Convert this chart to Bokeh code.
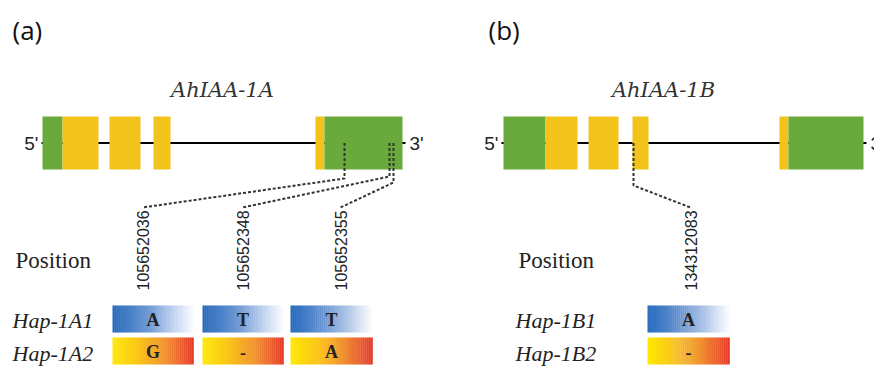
import numpy as np
from bokeh.plotting import figure
from bokeh.models import Range1d
from bokeh.embed import file_html
from bokeh.resources import INLINE
from bokeh.core.properties import value

# ---------------- data ----------------
panel_labels = ["(a)", "(b)"]
gene_names = ["AhIAA-1A", "AhIAA-1B"]

# schematic gene structures (drawing units)
gene_span_a = [41, 405]
exon_start_a = [42, 62, 109, 153, 315, 324]
exon_end_a = [62, 98, 140, 170, 324, 402]
exon_type_a = ["UTR", "CDS", "CDS", "CDS", "CDS", "UTR"]

gene_span_b = [501, 866]
exon_start_b = [503, 545, 588, 632, 779, 788]
exon_end_b = [545, 577, 618, 648, 788, 863]
exon_type_b = ["UTR", "CDS", "CDS", "CDS", "CDS", "UTR"]

snp_names_a = ["105652036", "105652348", "105652355"]
snp_site_a = [344, 389, 393]
snp_names_b = ["134312083"]
snp_site_b = [633]

hap_names_a = ["Hap-1A1", "Hap-1A2"]
alleles_a = [["A", "T", "T"], ["G", "-", "A"]]
hap_names_b = ["Hap-1B1", "Hap-1B2"]
alleles_b = [["A"], ["-"]]

# ---------------- layout / style ----------------
GREEN = "#6aaa3c"
YELLOW = "#f2c31a"
exon_color = {"UTR": GREEN, "CDS": YELLOW}

W, H = 874, 367
p = figure(width=W, height=H, output_backend="svg", toolbar_location=None,
           x_range=Range1d(0, W), y_range=Range1d(H, 0), min_border=0)
p.axis.visible = False
p.grid.visible = False
p.outline_line_color = None
p.background_fill_color = "white"

gene_y, gene_top, gene_bot = 142.5, 116, 169
label_x_a = [142, 242, 340]
label_x_b = [690]
bend_y_a = [178, 176, 182]
bend_y_b = [185]
label_base_y = 290
label_top_y = 207
box_cols_a = [(112, 193), (202, 283), (290, 372)]
box_cols_b = [(647, 729)]
rows = [(305, 332), (337, 364)]
hap_y = [320, 353]

blue_stops = [(0.0, (35, 105, 188)), (0.45, (115, 155, 212)), (1.0, (252, 253, 255))]
orange_stops = [(0.0, (255, 232, 0)), (0.3, (250, 200, 25)), (0.65, (240, 145, 50)), (1.0, (228, 55, 40))]


def interp(stops, t):
    for (t0, c0), (t1, c1) in zip(stops[:-1], stops[1:]):
        if t <= t1:
            f = (t - t0) / (t1 - t0)
            return "#%02x%02x%02x" % tuple(int(round(a + (b - a) * f)) for a, b in zip(c0, c1))
    return "#%02x%02x%02x" % stops[-1][1]


sans = value("Liberation Sans")
serif = value("Liberation Serif")
dserif = value("DejaVu Serif")


def draw_panel(letter, name, span, es, ee, et, snames, ssites, lxs, bends,
               hnames, alleles, cols, px, pos_x, hap_x, name_x):
    # panel letter
    p.text(x=[px], y=[29], text=[letter], text_font=value("Open Sans"),
           text_font_size="26px", text_align="left", text_baseline="middle", text_color="#111")
    # gene name
    p.text(x=[name_x], y=[89], text=[name], text_font=dserif, text_font_style="italic",
           text_font_size="21px", text_align="center", text_baseline="middle", text_color="#333")
    # intron line
    p.line(x=span, y=[gene_y, gene_y], line_color="black", line_width=2)
    # exons
    p.quad(left=es, right=ee, top=[gene_top] * len(es), bottom=[gene_bot] * len(es),
           fill_color=[exon_color[t] for t in et], line_color=None)
    # 5' / 3'
    p.text(x=[span[0] - 3], y=[gene_y], text=["5'"], text_font=sans, text_font_size="19px",
           text_align="right", text_baseline="middle", text_color="#222")
    p.text(x=[span[1] + 4], y=[gene_y], text=["3'"], text_font=sans, text_font_size="19px",
           text_align="left", text_baseline="middle", text_color="#222")
    # connectors
    xs = [[s, s, lx] for s, lx in zip(ssites, lxs)]
    ys = [[gene_y, b, label_top_y] for b in bends]
    p.multi_line(xs=xs, ys=ys, line_color="#333", line_width=2, line_dash="3 2")
    # position labels
    p.text(x=lxs, y=[label_base_y] * len(lxs), text=snames, angle=np.pi / 2,
           text_font=sans, text_font_size="16px", text_align="left", text_baseline="middle",
           text_color="#222")
    p.text(x=[pos_x], y=[260], text=["Position"], text_font=serif, text_font_size="23px",
           text_align="left", text_baseline="middle", text_color="#222")
    # haplotype rows
    p.text(x=[hap_x] * 2, y=hap_y, text=hnames, text_font=serif, text_font_style="italic",
           text_font_size="22px", text_align="left", text_baseline="middle", text_color="#222")
    n = 40
    for ri, ((top, bot), stops) in enumerate(zip(rows, [blue_stops, orange_stops])):
        L, R, C = [], [], []
        for (l, r) in cols:
            edges = np.linspace(l, r, n + 1)
            for k in range(n):
                L.append(edges[k]); R.append(edges[k + 1] + 0.3)
                C.append(interp(stops, (k + 0.5) / n))
        p.quad(left=L, right=R, top=[top] * len(L), bottom=[bot] * len(L),
               fill_color=C, line_color=None)
        p.text(x=[(l + r) / 2 for l, r in cols], y=[(top + bot) / 2 + 1] * len(cols),
               text=alleles[ri], text_font=serif, text_font_style="bold",
               text_font_size="18px", text_align="center", text_baseline="middle",
               text_color="#222")


draw_panel(panel_labels[0], gene_names[0], gene_span_a, exon_start_a, exon_end_a, exon_type_a,
           snp_names_a, snp_site_a, label_x_a, bend_y_a, hap_names_a, alleles_a, box_cols_a,
           12, 15, 12, 222)
draw_panel(panel_labels[1], gene_names[1], gene_span_b, exon_start_b, exon_end_b, exon_type_b,
           snp_names_b, snp_site_b, label_x_b, bend_y_b, hap_names_b, alleles_b, box_cols_b,
           488, 518, 515, 663)

open("out.html", "w").write(file_html(p, INLINE))
